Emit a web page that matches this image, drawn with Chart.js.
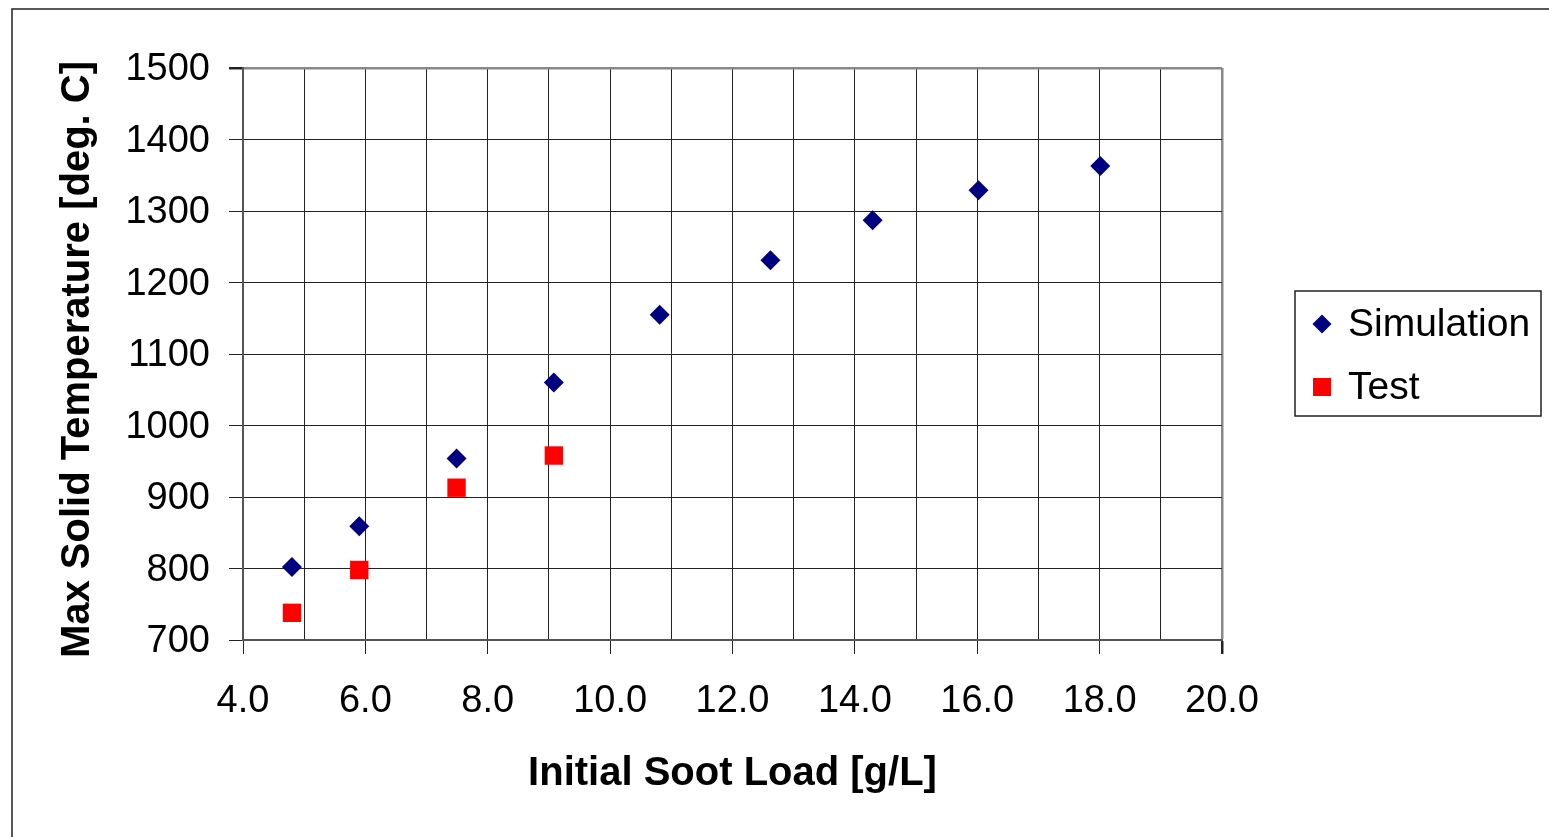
<!DOCTYPE html>
<html>
<head>
<meta charset="utf-8">
<title>Max Solid Temperature vs Initial Soot Load</title>
<script src="https://cdn.jsdelivr.net/npm/chart.js@4.4.1/dist/chart.umd.min.js"></script>
<style>
  html, body { margin: 0; padding: 0; background: #fff; }
  #wrap { position: relative; width: 1549px; height: 837px; }
</style>
</head>
<body>
<div id="wrap"><canvas id="chart" width="1549" height="837"></canvas></div>
<script>
// Simulation results
const simulationLoad = [4.80, 5.90, 7.49, 9.08, 10.81, 12.62, 14.29, 16.02, 18.01];
const simulationTemp = [802, 859, 954, 1060, 1155, 1231, 1287, 1329, 1363];

// Test measurements
const testLoad = [4.80, 5.90, 7.49, 9.08];
const testTemp = [738, 798, 913, 958];

// Labelled x ticks (gridlines are every 1.0)
const xTickLabels = [4, 6, 8, 10, 12, 14, 16, 18, 20];

const FONT = "'Liberation Sans', Arial, sans-serif";

function toPoints(xs, ys) {
    return xs.map((x, i) => ({ x: x, y: ys[i] }));
}

// Outer frame around the whole chart
const framePlugin = {
    id: 'frame',
    beforeDraw(chart) {
        const ctx = chart.ctx;
        ctx.save();
        ctx.fillStyle = '#fff';
        ctx.fillRect(0, 0, chart.width, chart.height);
        ctx.strokeStyle = '#222';
        ctx.lineWidth = 1.5;
        ctx.strokeRect(12, 9, chart.width + 20, chart.height + 20);
        ctx.restore();
    }
};

// Boxed legend to the right of the plot
const boxLegendPlugin = {
    id: 'boxLegend',
    afterDraw(chart) {
        const ctx = chart.ctx;
        const box = { left: 1295, top: 291, width: 246, height: 125 };
        ctx.save();
        ctx.strokeStyle = '#222';
        ctx.lineWidth = 1.5;
        ctx.strokeRect(box.left, box.top, box.width, box.height);
        ctx.font = '39px ' + FONT;
        ctx.textBaseline = 'middle';
        chart.data.datasets.forEach((ds, i) => {
            const cy = box.top + 33 + i * 63;
            const cx = box.left + 27;
            ctx.fillStyle = ds.backgroundColor;
            ctx.beginPath();
            if (ds.pointStyle === 'rectRot') {
                const r = 9.5;
                ctx.moveTo(cx - r, cy);
                ctx.lineTo(cx, cy - r);
                ctx.lineTo(cx + r, cy);
                ctx.lineTo(cx, cy + r);
                ctx.closePath();
            } else {
                ctx.rect(cx - 9, cy - 9, 18, 18);
            }
            ctx.fill();
            ctx.fillStyle = '#000';
            ctx.fillText(ds.label, box.left + 53, cy + 1);
        });
        ctx.restore();
    }
};

const ctx = document.getElementById('chart').getContext('2d');
const chart = new Chart(ctx, {
    type: 'scatter',
    data: {
        datasets: [
            {
                label: 'Simulation',
                data: toPoints(simulationLoad, simulationTemp),
                pointStyle: 'rectRot',
                pointRadius: 10,
                borderWidth: 0,
                backgroundColor: '#000080',
                borderColor: '#000080'
            },
            {
                label: 'Test',
                data: toPoints(testLoad, testTemp),
                pointStyle: 'rect',
                pointRadius: 13,
                borderWidth: 0,
                backgroundColor: '#ff0000',
                borderColor: '#ff0000'
            }
        ]
    },
    options: {
        responsive: false,
        animation: false,
        layout: { padding: { top: 68, right: 327, left: 0, bottom: 0 } },
        plugins: {
            legend: { display: false },
            tooltip: { enabled: false }
        },
        scales: {
            x: {
                type: 'linear',
                min: 4,
                max: 20,
                afterFit(scale) { scale.height = 197; },
                ticks: {
                    stepSize: 1,
                    autoSkip: false,
                    maxRotation: 0,
                    padding: 25,
                    color: '#000',
                    font: { family: FONT, size: 38 },
                    callback: (v) => xTickLabels.includes(v) ? v.toFixed(1) : ''
                },
                grid: {
                    color: (c) => c.tick && c.tick.value === 20 ? '#888' : '#222',
                    lineWidth: (c) => c.tick && c.tick.value === 20 ? 2.5 : 1,
                    tickLength: 14,
                    tickColor: (c) => c.tick && xTickLabels.includes(c.tick.value) ? '#222' : 'rgba(0,0,0,0)'
                },
                border: { color: '#555', width: 2 },
                title: {
                    display: true,
                    text: 'Initial Soot Load [g/L]',
                    color: '#000',
                    font: { family: FONT, size: 40, weight: 'bold' },
                    padding: { top: 0, bottom: 39 }
                }
            },
            y: {
                type: 'linear',
                min: 700,
                max: 1500,
                afterFit(scale) { scale.width = 243; },
                ticks: {
                    stepSize: 100,
                    padding: 19,
                    labelOffset: 2,
                    color: '#000',
                    font: { family: FONT, size: 38 },
                    callback: (v) => String(v)
                },
                grid: {
                    color: (c) => c.tick && c.tick.value === 1500 ? '#888' : '#222',
                    lineWidth: (c) => c.tick && c.tick.value === 1500 ? 2.5 : 1,
                    tickLength: 14,
                    tickColor: '#222'
                },
                border: { color: '#555', width: 2 },
                title: {
                    display: true,
                    // trailing space nudges the rotated title slightly downward
                    text: 'Max Solid Temperature [deg. C] ',
                    color: '#000',
                    font: { family: FONT, size: 40, weight: 'bold' },
                    padding: { top: 54, bottom: 0 }
                }
            }
        }
    },
    plugins: [framePlugin, boxLegendPlugin]
});
</script>
</body>
</html>
